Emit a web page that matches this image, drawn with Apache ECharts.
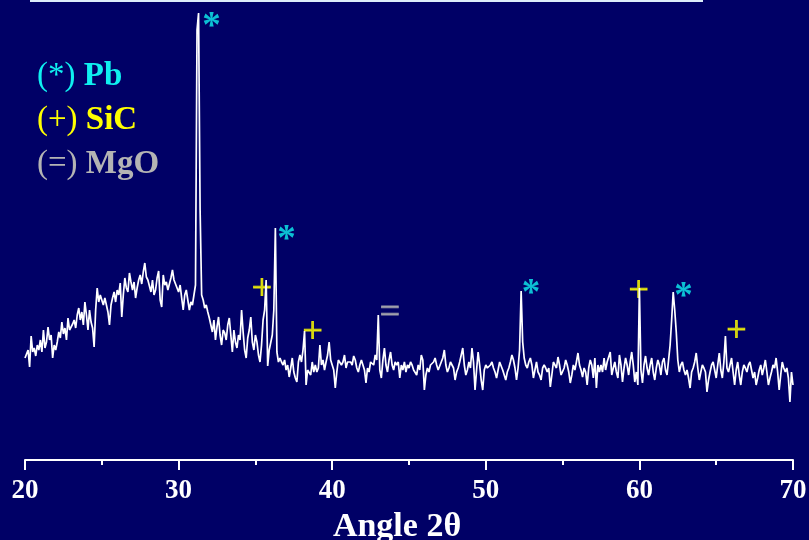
<!DOCTYPE html>
<html>
<head>
<meta charset="utf-8">
<title>XRD pattern</title>
<script src="https://cdn.jsdelivr.net/npm/echarts@6/dist/echarts.min.js"></script>
<style>
  html, body { margin: 0; padding: 0; background: #000066; }
  #chart { width: 809px; height: 540px; }
</style>
</head>
<body>
<div id="chart"></div>
<script>
// scan: 20..70 deg 2theta, step 0.1
const scanStart = 20
const scanStep = 0.1
const counts = [
  102, 106, 110, 93, 124, 108, 112, 104, 115, 110,   // 20
  120, 108, 130, 112, 118, 133, 120, 125, 102, 115,  // 21
  110, 118, 128, 122, 138, 126, 132, 120, 142, 130,  // 22
  128, 136, 140, 132, 145, 152, 140, 148, 135, 158,  // 23
  145, 130, 150, 138, 132, 113, 150, 172, 158, 165,  // 24
  165, 155, 162, 160, 148, 135, 155, 162, 168, 158,  // 25
  170, 165, 177, 143, 165, 182, 172, 168, 187, 178,  // 26
  170, 178, 162, 172, 180, 185, 176, 188, 197, 183,  // 27
  180, 178, 168, 180, 165, 170, 182, 189, 160, 153,  // 28
  185, 175, 178, 170, 176, 182, 190, 180, 178, 172,  // 29
  168, 175, 162, 150, 165, 170, 160, 150, 158, 155,  // 30
  165, 175, 430, 447, 250, 165, 160, 152, 155, 148,  // 31
  142, 135, 128, 140, 120, 133, 143, 125, 115, 130,  // 32
  127, 120, 135, 142, 125, 108, 130, 118, 112, 125,  // 33
  120, 150, 128, 110, 102, 122, 130, 143, 118, 110,  // 34
  125, 118, 105, 98, 115, 140, 150, 180, 94, 110,    // 35
  110, 125, 150, 232, 108, 98, 102, 98, 95, 100,     // 36
  90, 95, 83, 92, 102, 88, 82, 78, 98, 105,          // 37
  98, 110, 129, 75, 90, 92, 85, 98, 88, 95,          // 38
  88, 92, 115, 95, 100, 90, 98, 105, 118, 100,       // 39
  95, 90, 72, 88, 100, 102, 95, 98, 105, 92,         // 40
  98, 100, 98, 95, 104, 100, 92, 88, 95, 100,        // 41
  95, 90, 77, 92, 88, 98, 100, 95, 105, 100,         // 42
  145, 90, 82, 100, 112, 95, 88, 100, 108, 95,       // 43
  90, 98, 95, 98, 82, 95, 90, 98, 88, 95,            // 44
  92, 98, 95, 90, 88, 85, 95, 90, 105, 100,          // 45
  70, 85, 92, 88, 95, 94, 98, 102, 95, 90,           // 46
  92, 98, 102, 110, 95, 88, 92, 98, 100, 92,         // 47
  80, 88, 92, 98, 100, 112, 95, 85, 90, 98,          // 48
  92, 112, 98, 70, 90, 108, 95, 80, 70, 90,          // 49
  95, 92, 90, 95, 98, 92, 88, 82, 90, 98,            // 50
  98, 90, 92, 80, 88, 92, 98, 105, 100, 92,          // 51
  80, 92, 110, 169, 118, 102, 95, 92, 98, 102,       // 52
  95, 82, 90, 98, 88, 85, 80, 92, 95, 92,            // 53
  88, 92, 73, 85, 98, 95, 92, 103, 95, 85,           // 54
  85, 92, 100, 95, 88, 77, 85, 95, 90, 98,           // 55
  107, 95, 90, 83, 92, 88, 75, 92, 100, 95,          // 56
  82, 102, 72, 95, 88, 95, 88, 102, 90, 98,          // 57
  100, 108, 85, 92, 98, 88, 82, 105, 95, 78,         // 58
  92, 102, 95, 85, 98, 108, 95, 78, 88, 75,          // 59
  172, 90, 77, 95, 104, 92, 85, 95, 102, 88,         // 60
  80, 92, 100, 95, 85, 98, 102, 90, 85, 100,         // 61
  115, 140, 168, 150, 128, 100, 88, 95, 98, 90,      // 62
  85, 90, 82, 72, 88, 92, 98, 107, 92, 80,           // 63
  88, 95, 92, 88, 68, 80, 88, 95, 98, 90,            // 64
  82, 95, 107, 90, 82, 98, 124, 92, 88, 95,          // 65
  102, 88, 75, 90, 98, 85, 75, 88, 95, 92,           // 66
  88, 95, 98, 90, 82, 88, 75, 82, 90, 95,            // 67
  85, 92, 100, 88, 75, 82, 88, 95, 92, 102,          // 68
  88, 70, 85, 98, 92, 88, 92, 82, 58, 88,            // 69
  75                                                 // 70
]

// peak annotations [angle, height]
const pbMarks = [[32.14, 441], [37.03, 228], [52.94, 174], [62.87, 171]]
const sicMarks = [[35.43, 175], [38.73, 132], [59.95, 173], [66.31, 133]]
const mgoMarks = [[43.76, 151]]

const xTicks = [20, 30, 40, 50, 60, 70]

const phases = [
  { sym: '(*) ', name: 'Pb', color: '#0ff0f0' },
  { sym: '(+) ', name: 'SiC', color: '#ffff00' },
  { sym: '(=) ', name: 'MgO', color: '#b4b4b4' }
]

const serif = '"Liberation Serif", "Times New Roman", serif'

const chart = echarts.init(document.getElementById('chart'))

const markSeries = (data, text, color, size, weight, dy, stroke) => ({
  type: 'scatter',
  data,
  symbolSize: 0,
  silent: true,
  label: {
    show: true,
    position: 'inside',
    formatter: text,
    color,
    fontFamily: serif,
    fontSize: size,
    fontWeight: weight,
    textBorderColor: color,
    textBorderWidth: stroke,
    offset: [0, dy]
  }
})

const option = {
  backgroundColor: '#000066',
  animation: false,
  grid: { left: 25, right: 16, top: 10, bottom: 80, outerBoundsMode: 'none' },
  xAxis: {
    type: 'value',
    min: xTicks[0],
    max: xTicks[xTicks.length - 1],
    interval: 10,
    name: 'Angle 2θ',
    nameLocation: 'middle',
    nameGap: 50,
    nameTextStyle: {
      color: '#ffffff',
      fontFamily: serif,
      fontSize: 34,
      fontWeight: 'bold',
      padding: [0, 24, 0, 0]
    },
    axisLine: { lineStyle: { color: '#ffffff', width: 2 } },
    axisTick: { length: 10, lineStyle: { color: '#ffffff', width: 2 } },
    minorTick: { show: true, splitNumber: 2, length: 5, lineStyle: { color: '#ffffff', width: 2 } },
    axisLabel: {
      color: '#ffffff',
      fontFamily: serif,
      fontSize: 27,
      fontWeight: 'bold',
      margin: 18
    },
    splitLine: { show: false }
  },
  yAxis: {
    type: 'value',
    min: 0,
    max: 450,
    show: false
  },
  graphic: [
    { type: 'rect', shape: { x: 30, y: 0, width: 673, height: 2 }, style: { fill: '#dcecfa' } },
    ...phases.map((p, i) => ({
      type: 'text',
      x: 37,
      y: 76 + i * 44,
      style: {
        text: '{s|' + p.sym + '}{n|' + p.name + '}',
        verticalAlign: 'middle',
        rich: {
          s: { fill: p.color, font: '33px ' + serif },
          n: { fill: p.color, font: 'bold 33px ' + serif }
        }
      }
    }))
  ],
  series: [
    {
      type: 'line',
      data: counts.map((c, i) => [+(scanStart + i * scanStep).toFixed(1), c]),
      showSymbol: false,
      silent: true,
      lineStyle: { color: '#ffffff', width: 1.7 }
    },
    markSeries(pbMarks, '*', '#0ff0f0', 37, 'bold', 8, 0),
    markSeries(sicMarks, '+', '#ffff00', 36, 'normal', 5, 0.8),
    markSeries(mgoMarks, '=', '#b4b4b4', 36, 'normal', 5, 0.8)
  ]
}

chart.setOption(option)
window.addEventListener('resize', () => chart.resize())
</script>
</body>
</html>
